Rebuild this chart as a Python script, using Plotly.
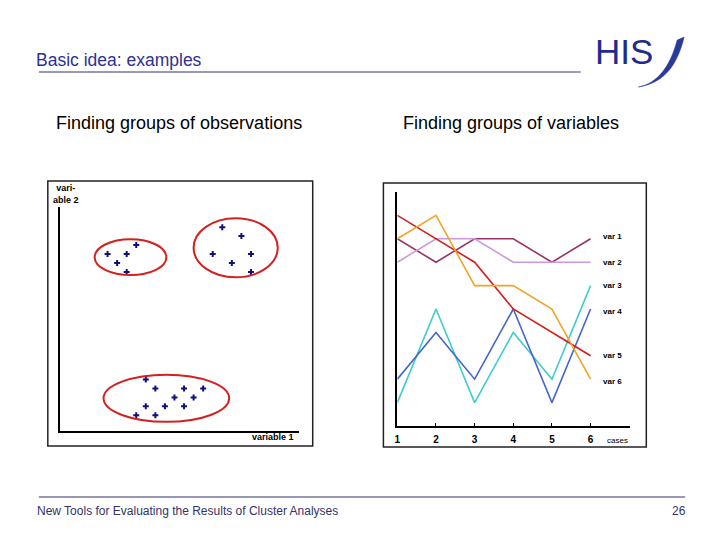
import plotly.graph_objects as go

W, H = 720, 540

# ---- Left chart data (observations) ----
cluster_x = [[5, 6, 7, 8, 7],
             [17, 19, 16, 18, 20, 20],
             [9, 10, 13, 15, 12, 14, 9, 11, 13, 8, 10]]
cluster_y = [[20, 19, 20, 21, 18],
             [23, 22, 20, 19, 20, 18],
             [6, 5, 5, 5, 4, 4, 3, 3, 3, 2, 2]]
# ellipse centre / radii around each group
ell_cx = [7.4, 18.4, 11.15]
ell_cy = [19.65, 20.7, 3.9]
ell_rx = [3.75, 4.4, 6.57]
ell_ry = [2.0, 3.3, 2.63]

# ---- Right chart data (variables) ----
cases = [1, 2, 3, 4, 5, 6]
var_names = ["var 1", "var 2", "var 3", "var 4", "var 5", "var 6"]
var_values = {
    "var 1": [8, 7, 8, 8, 7, 8],
    "var 2": [7, 8, 8, 7, 7, 7],
    "var 3": [1, 5, 1, 4, 2, 6],
    "var 4": [2, 4, 2, 5, 1, 5],
    "var 5": [9, 8, 7, 5, 4, 3],
    "var 6": [8, 9, 6, 6, 5, 2],
}
label_y = [8.1, 7.0, 6.0, 4.9, 3.0, 1.9]
var_colors = ["#993366", "#CC99E0", "#40CCCC", "#4466CC", "#D41E1E", "#F0A428"]


def px(x):
    return x / W


def py(y):
    return 1 - y / H


fig = go.Figure()

for gx, gy in zip(cluster_x, cluster_y):
    fig.add_trace(go.Scatter(x=gx, y=gy, mode="markers", xaxis="x", yaxis="y",
                             marker=dict(symbol="cross", size=5, color="#10107A"),
                             showlegend=False, hoverinfo="skip"))

for name, col in zip(var_names, var_colors):
    fig.add_trace(go.Scatter(x=cases, y=var_values[name], mode="lines",
                             xaxis="x2", yaxis="y2",
                             line=dict(color=col, width=1.6),
                             showlegend=False, hoverinfo="skip"))

shapes = []
for cx, cy, rx, ry in zip(ell_cx, ell_cy, ell_rx, ell_ry):
    shapes.append(dict(type="circle", xref="x", yref="y",
                       x0=cx - rx, x1=cx + rx, y0=cy - ry, y1=cy + ry,
                       line=dict(color="#D42020", width=2)))

# frames around the two pictures
for (x0, y0, x1, y1) in [(45, 181, 311, 446), (382, 183, 646, 447)]:
    shapes.append(dict(type="rect", xref="paper", yref="paper",
                       x0=px(x0), x1=px(x1), y0=py(y1), y1=py(y0),
                       line=dict(color="#222222", width=1.5)))

# title and footer rules
shapes.append(dict(type="line", xref="paper", yref="paper",
                   x0=px(36), x1=px(580), y0=py(72), y1=py(72),
                   line=dict(color="#333366", width=1)))
shapes.append(dict(type="line", xref="paper", yref="paper",
                   x0=px(36), x1=px(685), y0=py(497), y1=py(497),
                   line=dict(color="#333366", width=1)))

# logo swoosh
pts_out = [(638, 87), (666, 83), (678, 62), (684, 37)]
pts_in = [(677, 40), (670, 66), (658, 83), (638, 87)]
path = "M {},{} C {},{} {},{} {},{} L {},{} C {},{} {},{} {},{} Z".format(
    px(pts_out[0][0]), py(pts_out[0][1]),
    px(pts_out[1][0]), py(pts_out[1][1]),
    px(pts_out[2][0]), py(pts_out[2][1]),
    px(pts_out[3][0]), py(pts_out[3][1]),
    px(pts_in[0][0]), py(pts_in[0][1]),
    px(pts_in[1][0]), py(pts_in[1][1]),
    px(pts_in[2][0]), py(pts_in[2][1]),
    px(pts_in[3][0]), py(pts_in[3][1]))
shapes.append(dict(type="path", xref="paper", yref="paper", path=path,
                   fillcolor="#2A3A9A", line=dict(color="#2A3A9A", width=0.5)))

FONT = "Liberation Sans, Arial, sans-serif"
ann = []
ann.append(dict(text="Basic idea: examples", x=px(31), y=py(60), xref="paper", yref="paper",
                xanchor="left", yanchor="middle", showarrow=False,
                font=dict(family=FONT, size=17.5, color="#2E3192")))
ann.append(dict(text="HIS", x=px(592), y=py(51), xref="paper", yref="paper",
                xanchor="left", yanchor="middle", showarrow=False,
                font=dict(family=FONT, size=35, color="#1F2C8C")))
ann.append(dict(text="Finding groups of observations", x=px(177), y=py(123), xref="paper", yref="paper",
                xanchor="center", yanchor="middle", showarrow=False,
                font=dict(family=FONT, size=18, color="#000000")))
ann.append(dict(text="Finding groups of variables", x=px(510), y=py(123), xref="paper", yref="paper",
                xanchor="center", yanchor="middle", showarrow=False,
                font=dict(family=FONT, size=18, color="#000000")))
ann.append(dict(text="New Tools for Evaluating the Results of Cluster Analyses", x=px(32), y=py(511),
                xref="paper", yref="paper", xanchor="left", yanchor="middle", showarrow=False,
                font=dict(family=FONT, size=12, color="#333366")))
ann.append(dict(text="26", x=px(688), y=py(511), xref="paper", yref="paper",
                xanchor="right", yanchor="middle", showarrow=False,
                font=dict(family=FONT, size=12, color="#333366")))
ann.append(dict(text="<b>vari-<br>able 2</b>", x=px(63), y=py(194), xref="paper", yref="paper",
                xanchor="center", yanchor="middle", showarrow=False, align="center",
                font=dict(family=FONT, size=9, color="#000000")))
ann.append(dict(text="<b>variable 1</b>", x=px(271), y=py(437), xref="paper", yref="paper",
                xanchor="center", yanchor="middle", showarrow=False,
                font=dict(family=FONT, size=9, color="#000000")))
for name, ly in zip(var_names, label_y):
    ann.append(dict(text="<b>" + name + "</b>", x=6.27, y=ly, xref="x2", yref="y2",
                    xanchor="left", yanchor="middle", showarrow=False,
                    font=dict(family=FONT, size=8, color="#000000")))
ann.append(dict(text="cases", x=px(605), y=py(440), xref="paper", yref="paper",
                xanchor="left", yanchor="middle", showarrow=False,
                font=dict(family=FONT, size=8, color="#000000")))

fig.update_layout(
    width=W, height=H, margin=dict(l=0, r=0, t=0, b=0),
    paper_bgcolor="white", plot_bgcolor="white",
    xaxis=dict(domain=[px(57), px(297)], range=[0, 25], showline=True, linecolor="black",
               linewidth=2, showgrid=False, zeroline=False, showticklabels=False, ticks="",
               anchor="y"),
    yaxis=dict(domain=[py(431), py(207)], range=[0.25, 25.25], showline=True, linecolor="black",
               linewidth=2, showgrid=False, zeroline=False, showticklabels=False, ticks="",
               anchor="x"),
    xaxis2=dict(domain=[px(396), px(630)], range=[1, 7.03], showline=True, linecolor="black",
                linewidth=1.5, showgrid=False, zeroline=False, tickvals=cases,
                ticktext=["<b>%d</b>" % c for c in cases], ticks="inside", ticklen=3,
                tickcolor="black", tickfont=dict(family=FONT, size=10, color="black"),
                ticklabelstandoff=3, anchor="y2"),
    yaxis2=dict(domain=[py(426), py(192)], range=[0, 10], showline=True, linecolor="black",
                linewidth=1.5, showgrid=False, zeroline=False, showticklabels=False, ticks="",
                anchor="x2"),
    shapes=shapes, annotations=ann,
)

fig.write_html("out.html", config={"displayModeBar": False},
               post_script="document.body.style.margin='0';")
